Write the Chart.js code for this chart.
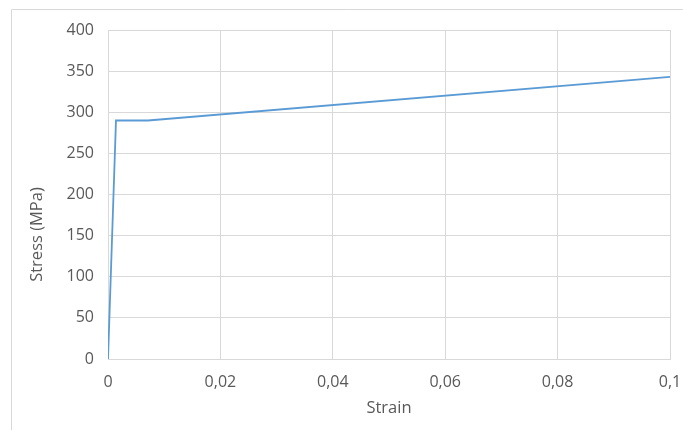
<!DOCTYPE html>
<html><head><meta charset="utf-8">
<script src="https://cdn.jsdelivr.net/npm/chart.js@4"></script>
<style>html,body{margin:0;padding:0;background:#fff}#wrap{width:683px;height:430px;position:relative}</style>
</head><body><div id="wrap"><canvas id="c" width="683" height="430"></canvas></div>
<script>
const strain = [0, 0.00142, 0.0071, 0.1];
const stress = [0, 290, 290, 343];
const xTicks = [0, 0.02, 0.04, 0.06, 0.08, 0.1];
const yTicks = [0, 50, 100, 150, 200, 250, 300, 350, 400];
const xTitle = 'Strain';
const yTitle = 'Stress (MPa)';

const font = {family: '"Open Sans", sans-serif', size: 16};
const tfont = {family: '"Open Sans", sans-serif', size: 16.5};

const framePlugin = {
  id: 'frame',
  beforeDraw(chart) {
    const ctx = chart.ctx;
    ctx.save();
    ctx.strokeStyle = '#d9d9d9';
    ctx.lineWidth = 1;
    ctx.beginPath();
    ctx.moveTo(11.5, 430); ctx.lineTo(11.5, 9.5); ctx.lineTo(683, 9.5);
    ctx.stroke();
    ctx.restore();
  },
  afterDraw(chart) {
    const ctx = chart.ctx;
    const y = chart.scales.y;
    ctx.save();
    ctx.fillStyle = '#595959';
    ctx.font = tfont.size + 'px ' + tfont.family;
    ctx.textAlign = 'center';
    ctx.textBaseline = 'middle';
    ctx.translate(y.left + 25.5, (y.top + y.bottom) / 2 + 40);
    ctx.rotate(-Math.PI / 2);
    ctx.fillText(yTitle, 0, 0);
    ctx.restore();
  }
};
new Chart(document.getElementById('c'), {
  type: 'line',
  data: { datasets: [{ data: strain.map((x, i) => ({x, y: stress[i]})), borderColor: '#5b9bd5', borderWidth: 1.8, pointRadius: 0, tension: 0, fill: false }] },
  options: {
    responsive: false, animation: false,
    layout: { padding: { left: 12, top: 30, right: 13, bottom: 0 } },
    plugins: { legend: { display: false }, tooltip: { enabled: false } },
    scales: {
      x: {
        type: 'linear', min: 0, max: 0.1,
        afterBuildTicks(s) { s.ticks = xTicks.map(v => ({value: v})); },
        afterFit(s) { s.height = 71; s.paddingRight = 0; s.paddingLeft = 0; },
        grid: { color: '#d9d9d9', drawTicks: false },
        border: { color: '#d9d9d9' },
        ticks: { color: '#595959', font, padding: 14, maxRotation: 0, callback: v => String(v).replace('.', ',') },
        title: { display: true, text: xTitle, color: '#595959', font: tfont, padding: {top: 0, bottom: 12} }
      },
      y: {
        min: 0, max: 400,
        afterBuildTicks(s) { s.ticks = yTicks.map(v => ({value: v})); },
        afterFit(s) { s.width = 96; s.paddingTop = 0; s.paddingBottom = 0; },
        grid: { color: '#d9d9d9', drawTicks: false },
        border: { display: false },
        ticks: { color: '#595959', font, padding: 14 },
        title: { display: false, text: yTitle }
      }
    }
  },
  plugins: [framePlugin]
});
</script></body></html>
